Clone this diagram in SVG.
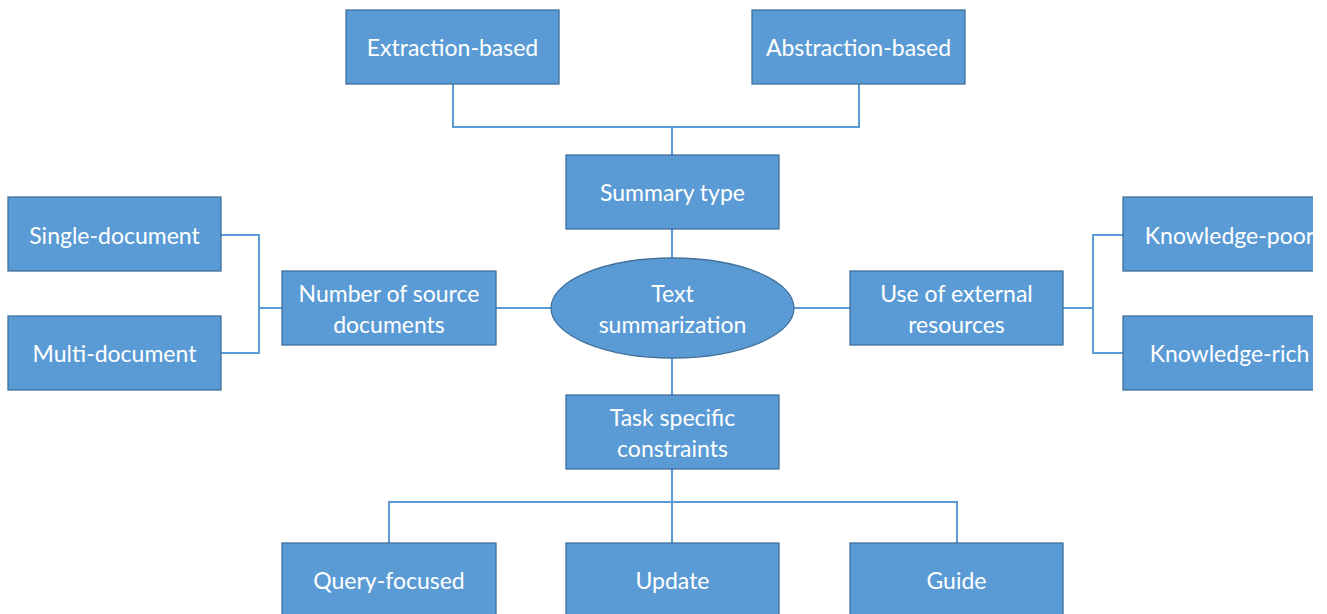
<svg xmlns="http://www.w3.org/2000/svg" width="1327" height="614" viewBox="0 0 1327 614">
<style>
.box{fill:#5B9BD5;stroke:#41719C;stroke-width:1.3}
.t{font-family:Lato,"Open Sans","Liberation Sans",sans-serif;font-size:23px;fill:#fff;text-anchor:middle;dominant-baseline:central}
.c{fill:none;stroke:#5B9BD5;stroke-width:2}
</style>
<defs><clipPath id="cr"><rect x="0" y="0" width="1313" height="614"/></clipPath></defs>
<rect width="1327" height="614" fill="#fff"/>
<g id="connectors">
<path class="c" d="M453 84V127H859V84M672 127V155"/>
<path class="c" d="M672 229V258M672 358V395"/>
<path class="c" d="M672 469V502M389 543V502H957V543M672 502V543"/>
<path class="c" d="M221 235H259V353H221M259 308H282M496 308H551"/>
<path class="c" d="M794 308H850M1063 308H1093M1123 235H1093V353H1123"/>
</g>
<g id="extraction"><rect class="box" x="346" y="10" width="213" height="74"/><text class="t" x="452.5" y="47">Extraction-based</text></g>
<g id="abstraction"><rect class="box" x="752" y="10" width="213" height="74"/><text class="t" x="858.5" y="47">Abstraction-based</text></g>
<g id="summary"><rect class="box" x="566" y="155" width="213" height="74"/><text class="t" x="672.5" y="192">Summary type</text></g>
<g id="center"><ellipse class="box" cx="672.5" cy="308" rx="121.5" ry="50"/><text class="t" x="672.5" y="293">Text</text><text class="t" x="672.5" y="324">summarization</text></g>
<g id="number"><rect class="box" x="282" y="271" width="214" height="74"/><text class="t" x="389" y="293">Number of source</text><text class="t" x="389" y="324">documents</text></g>
<g id="single"><rect class="box" x="8" y="197" width="213" height="74"/><text class="t" x="114.5" y="235">Single-document</text></g>
<g id="multi"><rect class="box" x="8" y="316" width="213" height="74"/><text class="t" x="114.5" y="353">Multi-document</text></g>
<g id="external"><rect class="box" x="850" y="271" width="213" height="74"/><text class="t" x="956.5" y="293">Use of external</text><text class="t" x="956.5" y="324">resources</text></g>
<g id="kpoor" clip-path="url(#cr)"><rect class="box" x="1123" y="197" width="213" height="74"/><text class="t" x="1229.5" y="235">Knowledge-poor</text></g>
<g id="krich" clip-path="url(#cr)"><rect class="box" x="1123" y="316" width="213" height="74"/><text class="t" x="1229.5" y="353">Knowledge-rich</text></g>
<g id="task"><rect class="box" x="566" y="395" width="213" height="74"/><text class="t" x="672.5" y="417">Task specific</text><text class="t" x="672.5" y="448">constraints</text></g>
<g id="query"><rect class="box" x="282" y="543" width="214" height="74"/><text class="t" x="389" y="580">Query-focused</text></g>
<g id="update"><rect class="box" x="566" y="543" width="213" height="74"/><text class="t" x="672.5" y="580">Update</text></g>
<g id="guide"><rect class="box" x="850" y="543" width="213" height="74"/><text class="t" x="956.5" y="580">Guide</text></g>
</svg>
